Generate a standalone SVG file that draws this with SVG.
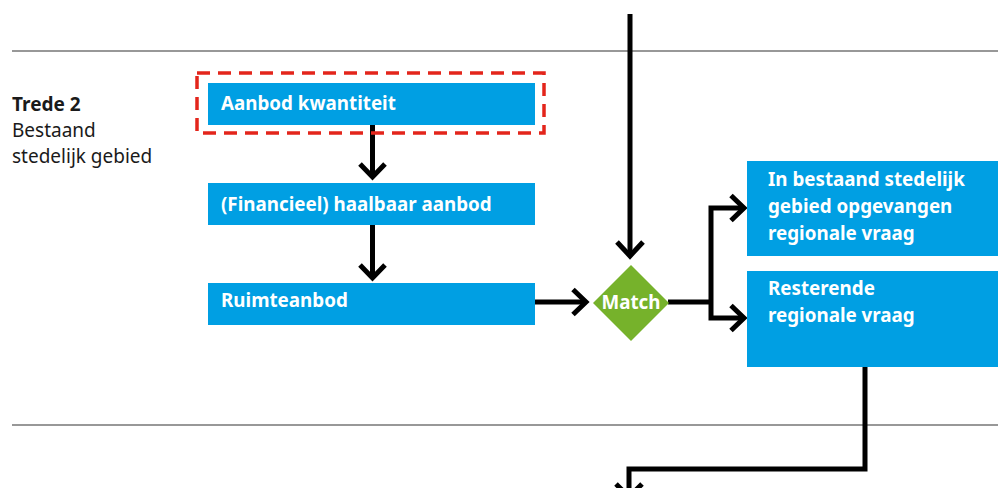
<svg xmlns="http://www.w3.org/2000/svg" width="998" height="488" viewBox="0 0 998 488">
  <defs>
    <style>
      .rule { stroke: #333333; stroke-width: 1.2; fill: none; }
      .box { fill: #009fe3; }
      .lbl { fill: #ffffff; font-family: "Noto Sans", "Open Sans", sans-serif; font-weight: bold; font-size: 18.8px; }
      .side { fill: #1a1a1a; font-family: "Noto Sans", "Open Sans", sans-serif; font-size: 19px; }
      .wire { stroke: #000000; stroke-width: 5; fill: none; stroke-linejoin: miter; }
      .head { stroke: #000000; stroke-width: 5; fill: none; stroke-linejoin: miter; stroke-linecap: butt; }
    </style>
  </defs>

  <rect width="998" height="488" fill="#ffffff"/>

  <!-- band rules -->
  <line class="rule" x1="12" y1="51" x2="998" y2="51"/>
  <line class="rule" x1="12" y1="425" x2="998" y2="425"/>

  <!-- row caption -->
  <g id="caption">
    <text class="side" x="12" y="111" font-weight="bold">Trede 2</text>
    <text class="side" x="12" y="137">Bestaand</text>
    <text class="side" x="12" y="163">stedelijk gebied</text>
  </g>

  <!-- connectors -->
  <g id="connectors">
    <!-- incoming from above into Match -->
    <line class="wire" x1="630" y1="14" x2="630" y2="254"/>
    <polyline class="head" points="617,242 630,256 643,242"/>

    <!-- Aanbod kwantiteit -> haalbaar aanbod -->
    <line class="wire" x1="372.5" y1="125" x2="372.5" y2="175"/>
    <polyline class="head" points="360,164 372.5,177 385,164"/>

    <!-- haalbaar aanbod -> Ruimteanbod -->
    <line class="wire" x1="372.5" y1="225" x2="372.5" y2="275"/>
    <polyline class="head" points="360,265 372.5,278 385,265"/>

    <!-- Ruimteanbod -> Match -->
    <line class="wire" x1="535" y1="302" x2="583" y2="302"/>
    <polyline class="head" points="573,289.5 586,302 573,314.5"/>

    <!-- Match -> split -->
    <polyline class="wire" points="668,302 711,302"/>
    <polyline class="wire" points="741,208 711,208 711,318 741,318"/>
    <polyline class="head" points="731,195.5 744,208 731,220.5"/>
    <polyline class="head" points="731,305.5 744,318 731,330.5"/>

    <!-- Resterende regionale vraag -> next band -->
    <polyline class="wire" points="865,367 865,469 629,469 629,488"/>
    <polyline class="head" points="616,484 629,497 642,484"/>
  </g>

  <!-- nodes -->
  <g id="aanbod-kwantiteit">
    <rect x="197" y="73" width="347" height="60" fill="none" stroke="#e3251b" stroke-width="3.5" stroke-dasharray="13,8"/>
    <rect class="box" x="208" y="83" width="327" height="42"/>
    <text class="lbl" x="221" y="110">Aanbod kwantiteit</text>
  </g>

  <g id="haalbaar-aanbod">
    <rect class="box" x="208" y="183" width="327" height="42"/>
    <text class="lbl" x="221" y="211">(Financieel) haalbaar aanbod</text>
  </g>

  <g id="ruimteanbod">
    <rect class="box" x="208" y="283" width="327" height="42"/>
    <text class="lbl" x="221" y="307">Ruimteanbod</text>
  </g>

  <g id="match">
    <polygon points="631,265 669,303 631,341 593,303" fill="#76b22b"/>
    <text class="lbl" x="631" y="309" font-size="16.5" text-anchor="middle">Match</text>
  </g>

  <g id="opgevangen-vraag">
    <rect class="box" x="747" y="161" width="251" height="95"/>
    <text class="lbl" x="768" y="186">In bestaand stedelijk</text>
    <text class="lbl" x="768" y="213">gebied opgevangen</text>
    <text class="lbl" x="768" y="240">regionale vraag</text>
  </g>

  <g id="resterende-vraag">
    <rect class="box" x="747" y="271" width="251" height="96"/>
    <text class="lbl" x="768" y="295">Resterende</text>
    <text class="lbl" x="768" y="322">regionale vraag</text>
  </g>
</svg>
